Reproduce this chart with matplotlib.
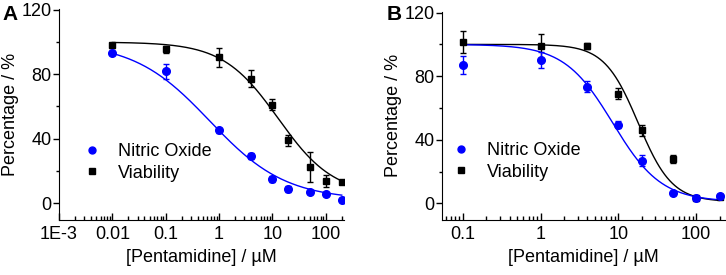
import numpy as np
import matplotlib
matplotlib.use('Agg')
import matplotlib.pyplot as plt
from matplotlib.ticker import FixedLocator, LogLocator, NullFormatter, MultipleLocator

plt.rcParams['font.family'] = ['Liberation Sans', 'DejaVu Sans']
plt.rcParams['font.size'] = 13

BLUE = '#0000ff'
BLACK = '#000000'

# panel A data
conc_a = [0.01, 0.1, 1, 4, 10, 20, 50, 100, 200]
no_a = [93.2, 81.8, 45.1, 29.1, 14.8, 8.7, 6.6, 5.4, 1.9]
no_a_err = [1.5, 4.5, 1.5, 2.0, 2.0, 2.0, 1.0, 1.0, 1.0]
via_a = [98.1, 95.4, 90.5, 77.3, 61.2, 39.0, 22.4, 13.8, 13.0]
via_a_err = [1.5, 2.0, 6.0, 5.2, 3.5, 3.5, 9.3, 3.5, 1.0]

# panel B data
conc_b = [0.1, 1, 4, 10, 20, 50, 100, 200]
no_b = [87.2, 90.4, 73.4, 49.5, 26.9, 6.3, 3.1, 4.8]
no_b_err = [5.7, 5.0, 3.5, 2.0, 3.5, 1.0, 1.0, 1.0]
via_b = [101.4, 98.7, 99.1, 68.9, 45.9, 27.9, 3.3, 3.8]
via_b_err = [7.0, 8.0, 2.0, 3.5, 3.5, 2.5, 1.5, 1.0]

# dose-response fit parameters: top, bottom, IC50, hill slope
fit_no_a = (100, 2, 0.67, 0.61)
fit_via_a = (100, 5, 12.9, 0.836)
fit_no_b = (100, 1, 8.47, 1.39)
fit_via_b = (100, 1, 18.0, 2.0)


def dose_response(x, p):
    top, bottom, ic50, hill = p
    return bottom + (top - bottom) / (1 + (x / ic50) ** hill)


def draw_panel(ax, conc, no, no_err, via, via_err, fit_no, fit_via, xlim, xticks, xlabels):
    xs = np.logspace(np.log10(conc[0]), np.log10(conc[-1]), 300)
    ax.plot(xs, dose_response(xs, fit_via), color=BLACK, lw=1)
    ax.plot(xs, dose_response(xs, fit_no), color=BLUE, lw=1)
    ax.errorbar(conc, via, yerr=via_err, fmt='s', color=BLACK, ms=4.5,
                capsize=2.5, elinewidth=1, capthick=1)
    ax.errorbar(conc, no, yerr=no_err, fmt='o', color=BLUE, ms=5.5,
                capsize=2.5, elinewidth=1, capthick=1)
    h_no, = ax.plot([], [], 'o', color=BLUE, ms=5, label='Nitric Oxide')
    h_via, = ax.plot([], [], 's', color=BLACK, ms=4.5, label='Viability')

    ax.set_xscale('log')
    ax.set_xlim(*xlim)
    ax.set_ylim(-10.5, 120.5)
    ax.xaxis.set_major_locator(FixedLocator(xticks))
    ax.set_xticklabels(xlabels)
    ax.xaxis.set_minor_locator(LogLocator(base=10, subs=np.arange(2, 10)))
    ax.xaxis.set_minor_formatter(NullFormatter())
    ax.yaxis.set_major_locator(FixedLocator([0, 40, 80, 120]))
    ax.yaxis.set_minor_locator(MultipleLocator(20))
    ax.tick_params(axis='x', which='major', direction='in', length=5, width=1, pad=4)
    ax.tick_params(axis='x', which='minor', direction='in', length=3, width=1)
    ax.tick_params(axis='y', which='major', direction='out', length=4, width=1, pad=1.5)
    ax.tick_params(axis='y', which='minor', direction='out', length=2.5, width=1)
    for s in ['top', 'right']:
        ax.spines[s].set_visible(False)
    ax.set_xlabel('[Pentamidine] / µM', labelpad=5)
    ax.set_ylabel('Percentage / %', labelpad=1.5)
    return [h_no, h_via]


fig = plt.figure(figsize=(7.26, 2.75), dpi=100)
ax_a = fig.add_axes([0.0813, 0.2, 0.3925, 0.767])
ax_b = fig.add_axes([0.609, 0.2, 0.389, 0.757])

hs = draw_panel(ax_a, conc_a, no_a, no_a_err, via_a, via_a_err, fit_no_a, fit_via_a,
                (1e-3, 220), [1e-3, 0.01, 0.1, 1, 10, 100],
                ['1E-3', '0.01', '0.1', '1', '10', '100'])
ax_a.legend(handles=hs, loc='center left', bbox_to_anchor=(0.083, 0.2725), frameon=False,
            borderpad=0, borderaxespad=0, handlelength=1, handletextpad=0.95, labelspacing=0.25)

hs = draw_panel(ax_b, conc_b, no_b, no_b_err, via_b, via_b_err, fit_no_b, fit_via_b,
                (0.054, 232), [0.1, 1, 10, 100], ['0.1', '1', '10', '100'])
ax_b.legend(handles=hs, loc='center left', bbox_to_anchor=(0.034, 0.282), frameon=False,
            borderpad=0, borderaxespad=0, handlelength=1, handletextpad=0.95, labelspacing=0.25)

fig.text(10 / 726, 1 - 15 / 275, 'A', fontsize=15, fontweight='bold', ha='center', va='center')
fig.text(394 / 726, 1 - 14 / 275, 'B', fontsize=15, fontweight='bold', ha='center', va='center')

fig.savefig('out.png', dpi=100)
